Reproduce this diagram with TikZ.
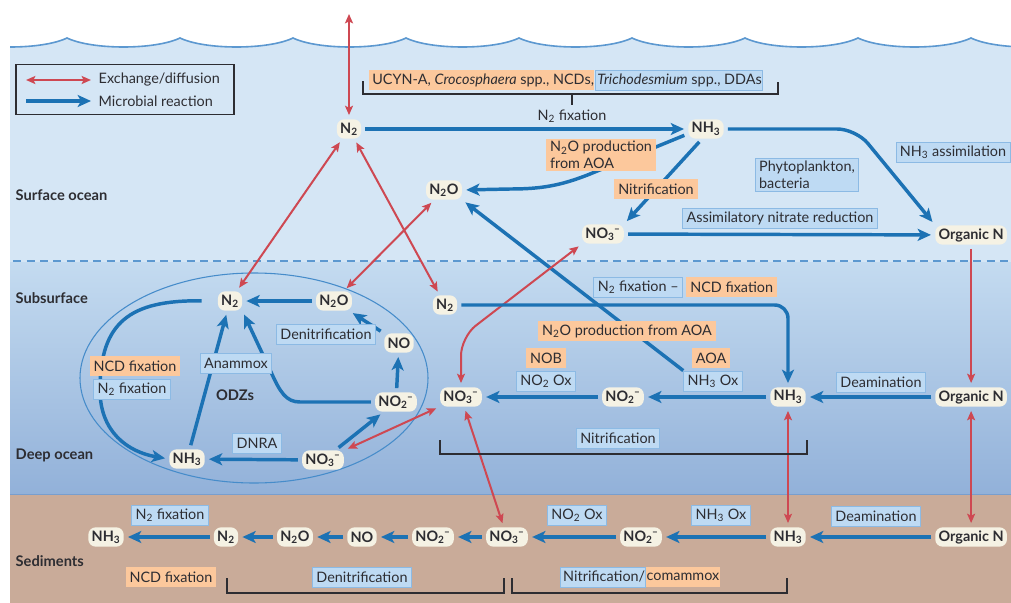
\documentclass[tikz,border=0pt]{standalone}
\usepackage{fontspec}
\setmainfont{Lato}
\usetikzlibrary{arrows.meta}
\definecolor{surf}{RGB}{213,230,245}
\definecolor{subtop}{RGB}{196,219,240}
\definecolor{subbot}{RGB}{146,177,217}
\definecolor{sed}{RGB}{201,171,153}
\definecolor{waveline}{RGB}{92,152,208}
\definecolor{sedline}{RGB}{120,158,206}
\definecolor{bArrow}{RGB}{28,114,180}
\definecolor{rArrow}{RGB}{206,72,82}
\definecolor{lblue}{RGB}{190,218,243}
\definecolor{lblueb}{RGB}{140,186,228}
\definecolor{lorange}{RGB}{252,200,156}
\definecolor{nodefill}{RGB}{245,242,228}
\definecolor{dark}{RGB}{45,45,50}
\definecolor{ellc}{RGB}{70,140,202}
\newcommand{\sbs}[1]{\textsubscript{#1}}
\newcommand{\anion}[2]{#1\textsubscript{#2}\kern-0.05em\textsuperscript{–}}
\pgfdeclarelayer{bgl}
\pgfdeclarelayer{arl}
\pgfsetlayers{bgl,arl,main}
\begin{document}
\begin{tikzpicture}[x=0.75pt,y=-0.75pt,
  every node/.style={font=\fontsize{10.8}{12.5}\selectfont, text=dark},
  nd/.style={fill=nodefill, rounded corners=5.5pt, inner xsep=2.5pt, inner ysep=1.5pt, minimum height=14.5pt, font=\fontsize{10.8}{12.5}\selectfont\bfseries},
  lb/.style={fill=lblue, draw=lblueb, line width=0.6pt, inner xsep=3pt, inner ysep=1pt, minimum height=15pt},
  lo/.style={fill=lorange, inner xsep=3pt, inner ysep=1pt, minimum height=15pt},
  ba/.style={draw=bArrow, line width=2.6pt, -{Stealth[length=10pt,width=9pt,inset=2.5pt]}, shorten >=3pt, shorten <=3pt},
  ra/.style={draw=rArrow, line width=1.5pt, {Stealth[length=7pt,width=6pt,inset=1.5pt]}-{Stealth[length=7pt,width=6pt,inset=1.5pt]}, shorten >=3pt, shorten <=3pt},
  rone/.style={draw=rArrow, line width=1.5pt, -{Stealth[length=7pt,width=6pt,inset=1.5pt]}, shorten >=3pt, shorten <=3pt},
  brk/.style={draw=dark, line width=0.8pt},
  reg/.style={anchor=west, font=\fontsize{11}{13}\selectfont\bfseries}
]
\useasboundingbox (0,0) rectangle (1011,603);

% ---------------- background ----------------
\begin{pgfonlayer}{bgl}
\fill[white] (0,0) rectangle (1011,603);
\begin{scope}
\clip (10,0) rectangle (1011,603);
\fill[surf] (-46,38) \foreach \c in {-46,67,180,293,406,519,632,745,858,971} { .. controls (\c+25,50) and (\c+88,50) .. (\c+113,38) } -- (1084,263) -- (-46,263) -- cycle;
\draw[waveline, line width=1.2pt] (-46,38) \foreach \c in {-46,67,180,293,406,519,632,745,858,971} { .. controls (\c+25,50) and (\c+88,50) .. (\c+113,38) };
\shade[top color=subtop, bottom color=subbot] (0,262) rectangle (1011,494);
\fill[sed] (0,494) rectangle (1011,603);
\draw[waveline, line width=1.2pt, dash pattern=on 6pt off 4pt] (0,261) -- (1011,261);
\draw[sedline, line width=1.2pt] (0,494.5) -- (1011,494.5);
\end{scope}
\draw[ellc, line width=0.8pt] (254,378) ellipse [x radius=174, y radius=105];
\end{pgfonlayer}

% ---------------- legend ----------------
\node[draw=dark, line width=0.9pt, minimum width=163.5pt, minimum height=38pt, inner sep=0pt] (legend) at (125,89.5) {};
\coordinate (lgr1) at (26,80);
\coordinate (lgr2) at (91,80);
\coordinate (lgb1) at (26,101);
\coordinate (lgb2) at (91,101);
\node[anchor=west] (lgT1) at (94,80) {Exchange/diffusion};
\node[anchor=west] (lgT2) at (94,101) {Microbial reaction};

% ---------------- region labels ----------------
\node[reg] (rSurf) at (11,195) {Surface ocean};
\node[reg] (rSub) at (11,298) {Subsurface};
\node[reg] (rDeep) at (11,455) {Deep ocean};
\node[reg] (rSed) at (11,561) {Sediments};

% ---------------- surface ----------------
\coordinate (sky) at (349,14);
\node[nd] (N2s) at (349,129) {N\sbs{2}};
\node[nd] (NH3s) at (706,129) {NH\sbs{3}};
\node[nd] (N2Os) at (444,190) {N\sbs{2}O};
\node[nd] (NO3s) at (603,234) {\anion{NO}{3}};
\node[nd, anchor=west] (ONs) at (935,235) {Organic N};

\draw[brk] (363,81) -- (363,94) -- (778,94) -- (778,82);
\draw[brk] (572,94) -- (572,105);
\node[lo, anchor=west, inner xsep=0.3pt] (lUCYN) at (369,80) {\hspace{2pt}UCYN-A, \textit{Crocosphaera} spp., NCDs,};
\node[lb, anchor=west, inner xsep=0.3pt] (lTricho) at (lUCYN.east) {\hspace{1.5pt}\textit{Trichodesmium} spp., DDAs\hspace{2pt}};
\node (lN2fixTop) at (572,116) {N\sbs{2} fixation};

\node[lo, align=left, inner ysep=2pt] (lN2Oaoa) at (601,155) {N\sbs{2}O production\\from AOA};
\node[lo] (lNitr) at (656,189) {Nitrification};
\node[lb, align=left, inner ysep=2pt] (lPhyto) at (807,175) {Phytoplankton,\\bacteria};
\node[lb] (lNH3assim) at (953,152) {NH\sbs{3} assimilation};
\node[lb] (lAssim) at (780,218) {Assimilatory nitrate reduction};

% ---------------- ODZ ----------------
\node[nd] (N2z) at (230,301) {N\sbs{2}};
\node[nd] (N2Oz) at (334,301) {N\sbs{2}O};
\node[nd] (NOz) at (399,343) {NO};
\node[nd] (NO2z) at (396,402) {\anion{NO}{2}};
\node[nd] (NH3z) at (187,459) {NH\sbs{3}};
\node[nd] (NO3z) at (323,460) {\anion{NO}{3}};
\node[font=\fontsize{11}{13}\selectfont\bfseries] (ODZs) at (235,395) {ODZs};
\node[lo] (lNCDz) at (135,366) {NCD fixation};
\node[lb] (lN2fixz) at (132,389) {N\sbs{2} fixation};
\node[lb] (lAnam) at (236,363) {Anammox};
\node[lb] (lDenit) at (326,334) {Denitrification};
\node[lb] (lDNRA) at (257,443) {DNRA};

% ---------------- subsurface / deep right ----------------
\node[nd] (N2r) at (445,305) {N\sbs{2}};
\node[lb, anchor=east] (lN2fixR) at (683,287) {N\sbs{2} fixation --};
\node[lo, anchor=west] (lNCDR) at (686,287) {NCD fixation};
\node[lo] (lN2Oaoa2) at (627,331) {N\sbs{2}O production from AOA};
\node[lo] (lNOB) at (546,358) {NOB};
\node[lb] (lNO2Ox) at (546,381) {NO\sbs{2} Ox};
\node[lo] (lAOA) at (711,358) {AOA};
\node[lb] (lNH3Ox) at (713,381) {NH\sbs{3} Ox};
\node[lb] (lDeamD) at (881,382) {Deamination};

\node[nd] (NO3d) at (461,397) {\anion{NO}{3}};
\node[nd] (NO2d) at (623,397) {\anion{NO}{2}};
\node[nd] (NH3d) at (788,397) {NH\sbs{3}};
\node[nd, anchor=west] (ONd) at (935,397) {Organic N};

\draw[brk] (440,440) -- (440,454) -- (807,454) -- (807,440);
\node[lb] (lNitrD) at (618,438) {Nitrification};

% ---------------- sediments ----------------
\node[nd] (NH3x) at (106,537) {NH\sbs{3}};
\node[nd] (N2x) at (226,537) {N\sbs{2}};
\node[nd] (N2Ox) at (295,537) {N\sbs{2}O};
\node[nd] (NOx) at (362,537) {NO};
\node[nd] (NO2x) at (433,537) {\anion{NO}{2}};
\node[nd] (NO3x) at (507,537) {\anion{NO}{3}};
\node[nd] (NO2xb) at (641,537) {\anion{NO}{2}};
\node[nd] (NH3xb) at (788,537) {NH\sbs{3}};
\node[nd, anchor=west] (ONx) at (935,537) {Organic N};

\node[lb] (lN2fixS) at (170,515) {N\sbs{2} fixation};
\node[lb] (lNO2OxS) at (577,515) {NO\sbs{2} Ox};
\node[lb] (lNH3OxS) at (721,515) {NH\sbs{3} Ox};
\node[lb] (lDeamS) at (876,516) {Deamination};
\draw[brk] (227,578) -- (227,593) -- (504,593) -- (504,578);
\draw[brk] (512,578) -- (512,593) -- (787,593) -- (787,578);
\node[lo] (lNCDS) at (171,577) {NCD fixation};
\node[lb] (lDenitS) at (362,577) {Denitrification};
\node[lb, anchor=east, inner xsep=0.3pt] (lNitrS) at (646,577) {\hspace{2pt}Nitrification/};
\node[lo, anchor=west, inner xsep=0.3pt] (lComS) at (lNitrS.east) {comammox\hspace{2pt}};

% ---------------- connectors ----------------
\begin{pgfonlayer}{arl}
% legend
\draw[ra, shorten <=0pt, shorten >=0pt] (lgr1) -- (lgr2);
\draw[ba, shorten <=0pt, shorten >=0pt] (lgb1) -- (lgb2);
% surface
\draw[ra, shorten >=0pt] (N2s) -- (sky);
\draw[ba] (N2s) -- (NH3s);
\draw[ba, rounded corners=14pt] (NH3s.east) -- (856,129) -- (ONs.north west);
\draw[ba] (NH3s.195) -- (590,174) .. controls (560,186) and (540,189) .. (510,189) -- (N2Os.east);
\draw[ba] (NH3s.248) -- (NO3s.north east);
\draw[ba] (NO3s) -- (ONs);
\draw[ba, shorten <=0pt] (lNH3Ox.north west) -- (N2Os.south east);
% exchanges
\draw[ra] (N2s) -- (N2z);
\draw[ra] (N2s) -- (N2r);
\draw[ra] (N2Os) -- (N2Oz);
\draw[ra, rounded corners=14pt] (NO3s.south west) -- (461,337) -- (NO3d.north);
\draw[ra] (NO3d) -- (NO3z);
\draw[rone] (ONs) -- (ONd);
\draw[ra] (ONd) -- (ONx);
\draw[ra] (NH3d) -- (NH3xb);
\draw[ra] (NO3d) -- (NO3x);
% ODZ
\draw[ba] (N2Oz) -- (N2z);
\draw[ba] (NOz) -- (N2Oz);
\draw[ba] (NO2z) -- (NOz);
\draw[ba] (NO3z) -- (NO2z);
\draw[ba] (NO3z) -- (NH3z);
\draw[ba] (NH3z) -- (N2z);
\draw[ba] (NO2z.west) -- (300,402) .. controls (286,402) and (280,392) .. (271,372) -- (N2z.south east);
\draw[ba, shorten <=12pt] (N2z.west) .. controls (130,300) and (100,322) .. (100,390) .. controls (100,432) and (128,452) .. (NH3z.west);
% deep
\draw[ba, rounded corners=10pt] (N2r.east) -- (788,305) -- (NH3d.north);
\draw[ba] (ONd) -- (NH3d);
\draw[ba] (NH3d) -- (NO2d);
\draw[ba] (NO2d) -- (NO3d);
% sediments
\draw[ba] (ONx) -- (NH3xb);
\draw[ba] (NH3xb) -- (NO2xb);
\draw[ba] (NO2xb) -- (NO3x);
\draw[ba] (NO3x) -- (NO2x);
\draw[ba] (NO2x) -- (NOx);
\draw[ba] (NOx) -- (N2Ox);
\draw[ba] (N2Ox) -- (N2x);
\draw[ba] (N2x) -- (NH3x);
\end{pgfonlayer}
\end{tikzpicture}
\end{document}
